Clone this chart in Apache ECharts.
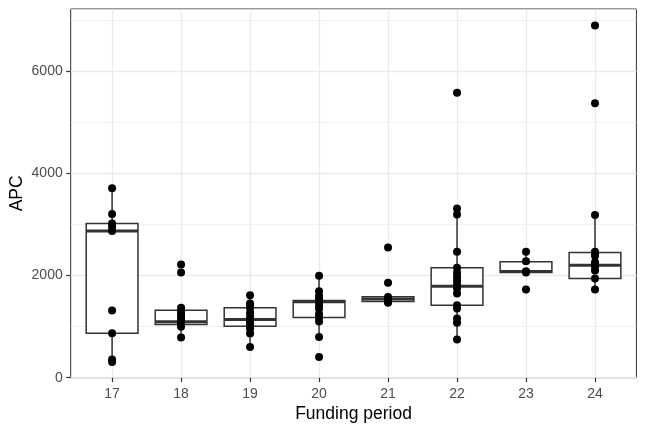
<!DOCTYPE html>
<html>
<head>
<meta charset="utf-8">
<script src="https://cdn.jsdelivr.net/npm/echarts@6/dist/echarts.min.js"></script>
<style>
  html, body { margin: 0; padding: 0; background: #fff; }
  #chart { width: 648px; height: 432px; }
</style>
</head>
<body>
<div id="chart"></div>
<script>
  // funding periods (x categories)
  var periods = [17, 18, 19, 20, 21, 22, 23, 24];
  var yTicks = [0, 2000, 4000, 6000];

  // APC values per funding period (one dot each)
  var apc17 = [310, 357, 873, 1318, 2873, 2957, 3024, 3206, 3710];
  var apc18 = [790, 1000, 1040, 1060, 1094, 1150, 1200, 1250, 1300, 1370, 2060, 2220];
  var apc19 = [604, 867, 960, 1010, 1060, 1100, 1141, 1200, 1280, 1369, 1420, 1455, 1618];
  var apc20 = [408, 800, 1100, 1180, 1250, 1350, 1420, 1486, 1510, 1550, 1604, 1696, 1996];
  var apc21 = [1470, 1500, 1520, 1545, 1580, 1860, 2553];
  var apc22 = [749, 1075, 1161, 1357, 1422, 1651, 1749, 1794, 1833, 1912, 1976, 2055, 2153, 2467, 3200, 3318, 5584];
  var apc23 = [1729, 2063, 2088, 2284, 2467];
  var apc24 = [1729, 1945, 2100, 2180, 2206, 2260, 2388, 2440, 2467, 3186, 5376, 6900];
  var apcByPeriod = [apc17, apc18, apc19, apc20, apc21, apc22, apc23, apc24];

  // box stats
  var whiskerLow = [310, 790, 604, 800, 1470, 749, 2063, 1729];
  var boxQ1 = [873, 1043, 1010, 1180, 1494, 1422, 2063, 1945];
  var boxMedian = [2873, 1094, 1141, 1486, 1540, 1794, 2082, 2206];
  var boxQ3 = [3024, 1324, 1369, 1514, 1584, 2153, 2271, 2455];
  var whiskerHigh = [3710, 1370, 1618, 1996, 1584, 3318, 2467, 3186];

  var boxData = periods.map(function (p, i) {
    return [p, whiskerLow[i], boxQ1[i], boxMedian[i], boxQ3[i], whiskerHigh[i]];
  });
  var dotData = [];
  periods.forEach(function (p, i) {
    apcByPeriod[i].forEach(function (v) { dotData.push([p, v]); });
  });

  var font = '"Liberation Sans", Arial, Helvetica, sans-serif';
  var gridColor = '#EBEBEB';

  // ggplot style box: whiskers, white box, fat median
  function renderBox(params, api) {
    var x = api.value(0);
    var half = api.size([0.375, 0])[0];
    var lo = api.coord([x, api.value(1)]);
    var q1 = api.coord([x, api.value(2)]);
    var md = api.coord([x, api.value(3)]);
    var q3 = api.coord([x, api.value(4)]);
    var hi = api.coord([x, api.value(5)]);
    var ln = { stroke: '#333333', lineWidth: 1.5 };
    return {
      type: 'group',
      children: [
        { type: 'line', shape: { x1: lo[0], y1: lo[1], x2: q1[0], y2: q1[1] }, style: ln },
        { type: 'line', shape: { x1: q3[0], y1: q3[1], x2: hi[0], y2: hi[1] }, style: ln },
        { type: 'rect', shape: { x: q3[0] - half, y: q3[1], width: half * 2, height: q1[1] - q3[1] },
          style: { fill: '#ffffff', stroke: '#333333', lineWidth: 1.5 } },
        { type: 'line', shape: { x1: md[0] - half, y1: md[1], x2: md[0] + half, y2: md[1] },
          style: { stroke: '#333333', lineWidth: 3 } }
      ]
    };
  }

  var chart = echarts.init(document.getElementById('chart'), null, { renderer: 'canvas' });
  chart.setOption({
    animation: false,
    backgroundColor: '#ffffff',
    grid: {
      left: 70.7, right: 11.6, top: 9, bottom: 54.3,
      containLabel: false, outerBoundsMode: 'none',
      show: true, borderColor: '#333333', borderWidth: 1, backgroundColor: 'transparent'
    },
    xAxis: {
      type: 'value', min: 16.4, max: 24.6,
      name: 'Funding period', nameLocation: 'middle', nameGap: 27, nameMoveOverlap: false,
      nameTextStyle: { color: '#000', fontSize: 17.5, fontFamily: font },
      axisLine: { show: false },
      axisTick: { show: true, length: 4.4, customValues: periods, lineStyle: { color: '#333333', width: 1.2 } },
      axisLabel: { customValues: periods, color: '#4D4D4D', fontSize: 14, fontFamily: font, margin: 9 },
      splitLine: { show: true, lineStyle: { color: gridColor, width: 1.3 } }
    },
    yAxis: [{
      type: 'value', min: 0, max: 7225, interval: 2000,
      name: 'APC', nameLocation: 'middle', nameGap: 45, nameMoveOverlap: false,
      nameTextStyle: { color: '#000', fontSize: 17.5, fontFamily: font },
      axisLine: { show: false },
      axisTick: { show: true, length: 4.4, customValues: yTicks, lineStyle: { color: '#333333', width: 1.2 } },
      axisLabel: {
        customValues: yTicks, color: '#4D4D4D', fontSize: 14, fontFamily: font, margin: 8,
        formatter: function (v) { return String(v); }
      },
      splitLine: { show: true, lineStyle: { color: gridColor, width: 1.3 } }
    }, {
      // minor grid lines only
      type: 'value', min: 0, max: 7225, interval: 1000, position: 'left',
      axisLine: { show: false }, axisTick: { show: false }, axisLabel: { show: false },
      splitLine: { show: true, lineStyle: { color: gridColor, width: 0.7 } }
    }],
    series: [{
      type: 'custom',
      renderItem: renderBox,
      encode: { x: 0, y: [1, 2, 3, 4, 5] },
      data: boxData,
      z: 3
    }, {
      type: 'scatter',
      data: dotData,
      symbolSize: 8,
      itemStyle: { color: '#000000', opacity: 1 },
      z: 4
    }]
  });
</script>
</body>
</html>
